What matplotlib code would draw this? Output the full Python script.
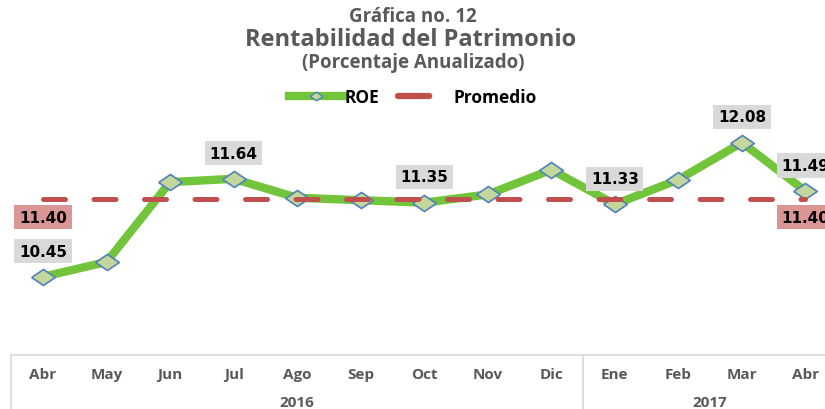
import matplotlib.pyplot as plt
from matplotlib.lines import Line2D
from matplotlib import transforms

MONTHS = ['Abr', 'May', 'Jun', 'Jul', 'Ago', 'Sep', 'Oct', 'Nov', 'Dic',
          'Ene', 'Feb', 'Mar', 'Abr']
YEARS = ['2016', '2017']
YEAR_SPANS = [(0, 8), (9, 12)]

ROE = [10.45, 10.63, 11.60, 11.64, 11.41, 11.38, 11.35, 11.45, 11.75,
       11.33, 11.63, 12.08, 11.49]
PROMEDIO = [11.40] * 13
LABELED = [0, 3, 6, 9, 11, 12]

GREEN = '#72c43a'
RED = '#c0504d'
GREY_TXT = '#595959'
GRID = '#d9d9d9'
DIAMOND = [(-1, 0), (0, 0.68), (1, 0), (0, -0.68), (-1, 0)]
FONT = 'Open Sans'


def create_plot():
    fig = plt.figure(figsize=(8.25, 4.1), dpi=100)
    ax = fig.add_axes([11.25 / 825, 1 - 356 / 410, 826 / 825, 247 / 410])
    x = list(range(len(MONTHS)))

    ax.plot(x, PROMEDIO, color=RED, lw=3.6, dashes=(4.4, 5.7),
            dash_capstyle='round', zorder=3)
    ax.plot(x, ROE, color=GREEN, lw=6, solid_joinstyle='miter', zorder=2,
            marker=DIAMOND, ms=17, mfc='#c4d79b', mec='#4f81bd', mew=1.2)

    for i in LABELED:
        ax.annotate('%.2f' % ROE[i], (i, ROE[i]), xytext=(0, 18.5),
                    textcoords='offset points', ha='center', va='center',
                    fontsize=11, fontweight='bold', family='DejaVu Sans',
                    bbox=dict(boxstyle='square,pad=0.3', fc=GRID, ec='none'),
                    zorder=5)
    for i in [0, len(MONTHS) - 1]:
        ax.annotate('%.2f' % PROMEDIO[i], (i, PROMEDIO[i]), xytext=(0, -13.5),
                    textcoords='offset points', ha='center', va='center',
                    fontsize=11, fontweight='bold', family='DejaVu Sans',
                    bbox=dict(boxstyle='square,pad=0.3', fc='#da9694', ec='none'),
                    zorder=5)

    ax.set_xlim(-0.5, len(MONTHS) - 0.5)
    ax.set_ylim(9.5, 12.5)
    ax.set_xticks([])
    ax.set_yticks([])
    for s in ['top', 'left', 'right']:
        ax.spines[s].set_visible(False)
    ax.spines['bottom'].set_color(GRID)
    ax.spines['bottom'].set_linewidth(1.2)

    trans = transforms.blended_transform_factory(ax.transData, ax.transAxes)
    for i, m in enumerate(MONTHS):
        ax.text(i, -0.077, m, transform=trans, ha='center', va='center',
                fontsize=11, fontweight='bold', color=GREY_TXT, family=FONT)
    for (a, b), yr in zip(YEAR_SPANS, YEARS):
        ax.text((a + b) / 2, -0.19, yr, transform=trans, ha='center',
                va='center', fontsize=11, fontweight='bold', color=GREY_TXT,
                family=FONT)
        ax.plot([a - 0.5, a - 0.5], [0, -0.25], transform=trans, color=GRID,
                lw=1.2, clip_on=False)

    fig.text(413 / 825, 1 - 17 / 410, 'Gráfica no. 12', ha='center',
             va='center', fontsize=13.5, fontweight='bold', color=GREY_TXT,
             family=FONT)
    fig.text(411 / 825, 1 - 40 / 410, 'Rentabilidad del Patrimonio',
             ha='center', va='center', fontsize=17, fontweight='bold',
             color=GREY_TXT, family=FONT)
    fig.text(413 / 825, 1 - 63 / 410, '(Porcentaje Anualizado)', ha='center',
             va='center', fontsize=13.5, fontweight='bold', color=GREY_TXT,
             family=FONT)

    handles = [
        Line2D([], [], color=GREEN, lw=6, marker=DIAMOND, ms=9,
               mfc='#c4d79b', mec='#4f81bd', mew=1),
        Line2D([], [], color=RED, lw=4.5, dashes=(5, 10),
               dash_capstyle='round'),
    ]
    fig.legend(handles, ['ROE', 'Promedio'], loc='center', ncol=2,
               bbox_to_anchor=(413 / 825, 1 - 98 / 410), frameon=False,
               prop={'family': FONT, 'weight': 'bold', 'size': 12.5},
               handlelength=3.1, handletextpad=0.1, columnspacing=1.1)

    fig.savefig('out.png', dpi=100, facecolor='white')


create_plot()
